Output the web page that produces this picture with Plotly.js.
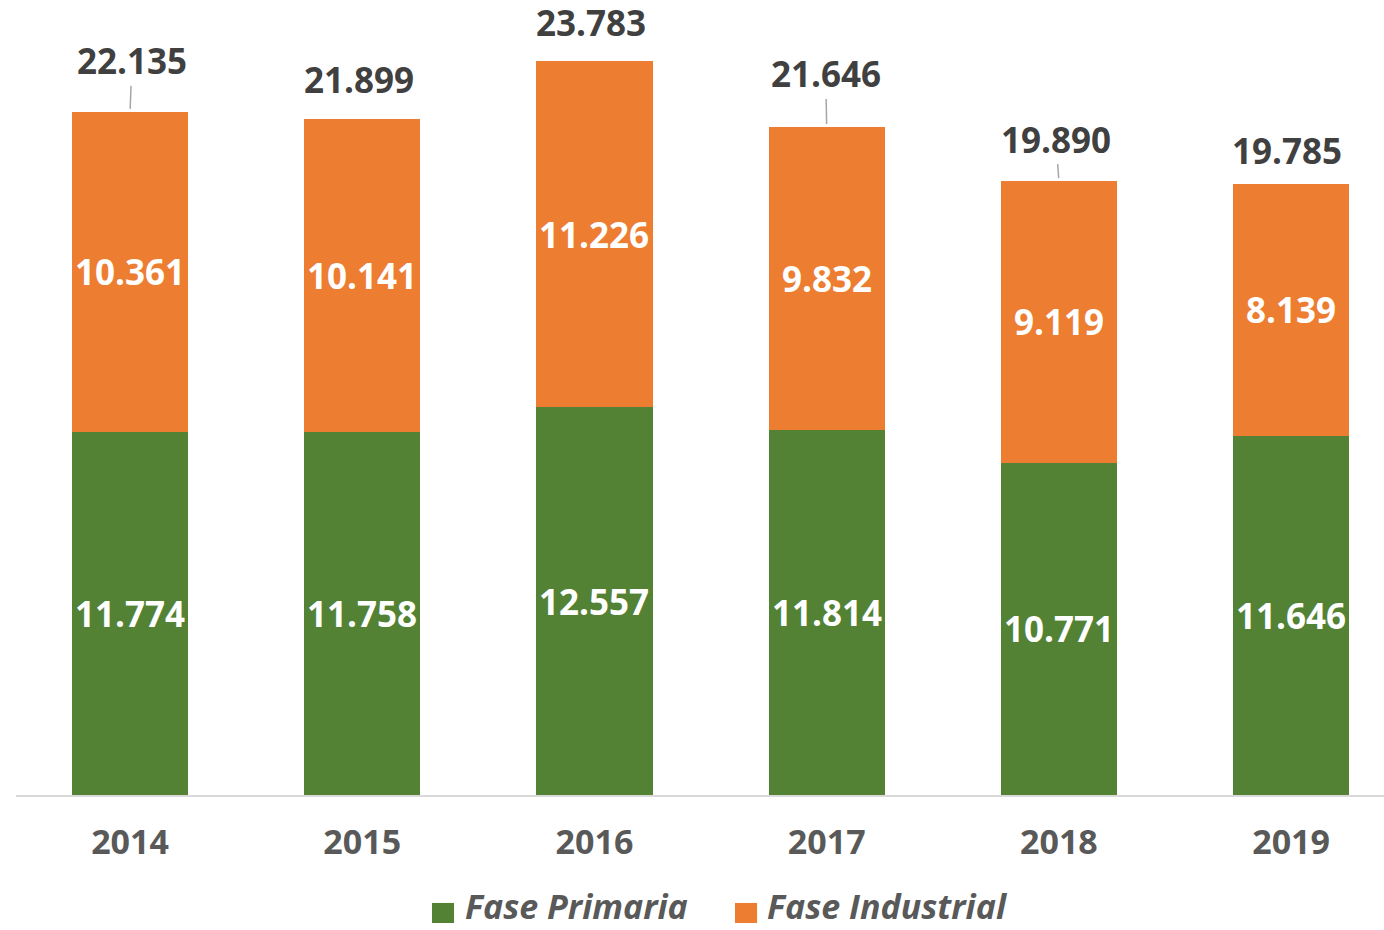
<!DOCTYPE html>
<html>
<head>
<meta charset="utf-8">
<script src="https://cdn.plot.ly/plotly-3.0.1.min.js"></script>
<style>html,body{margin:0;padding:0;background:#fff;}#chart{width:1384px;height:930px;}</style>
</head>
<body>
<div id="chart"></div>
<script>
const years = ['2014', '2015', '2016', '2017', '2018', '2019'];
const primaria = [11774, 11758, 12557, 11814, 10771, 11646];
const industrial = [10361, 10141, 11226, 9832, 9119, 8139];
const totals = [22135, 21899, 23783, 21646, 19890, 19785];
const seriesNames = ['Fase Primaria', 'Fase Industrial'];

function fmt(v) {
  return String(v).replace(/\B(?=(\d{3})+(?!\d))/g, '.');
}

const FONT = 'Open Sans, Liberation Sans, sans-serif';
const GREEN = '#548235';
const ORANGE = '#ED7D31';
const colors = [GREEN, ORANGE];

// label placement (style config): pixel offsets of total labels and whether a leader line is shown
const totalLabelStyle = [
  {ax: 2, ay: -51, line: true},
  {ax: -3, ay: -40, line: false},
  {ax: -3, ay: -39, line: false},
  {ax: -1, ay: -53, line: true},
  {ax: -3, ay: -42, line: true},
  {ax: -4, ay: -34, line: false}
];

const traces = [
  {type: 'bar', name: seriesNames[0], x: years, y: primaria, marker: {color: GREEN}, hoverinfo: 'none', showlegend: false},
  {type: 'bar', name: seriesNames[1], x: years, y: industrial, marker: {color: ORANGE}, hoverinfo: 'none', showlegend: false}
];

const annotations = [];
const shapes = [];
years.forEach((yr, i) => {
  // category index i on the category axis
  annotations.push({x: i, y: primaria[i] / 2, xref: 'x', yref: 'y', text: '<b>' + fmt(primaria[i]) + '</b>', showarrow: false,
    font: {family: FONT, size: 35, color: '#ffffff'}});
  annotations.push({x: i, y: primaria[i] + industrial[i] / 2, xref: 'x', yref: 'y', text: '<b>' + fmt(industrial[i]) + '</b>', showarrow: false,
    font: {family: FONT, size: 35, color: '#ffffff'}});
  const s = totalLabelStyle[i];
  annotations.push({x: i, y: totals[i], xref: 'x', yref: 'y', text: '<b>' + fmt(totals[i]) + '</b>',
    showarrow: true, arrowhead: 0, arrowwidth: 1.5, arrowcolor: s.line ? '#a6a6a6' : 'rgba(255,255,255,0)',
    ax: s.ax, ay: s.ay, standoff: 3,
    font: {family: FONT, size: 35, color: '#404040'}});
});

// manual legend (squares + labels) below the plot
const legendPos = [
  {sx0: 0.3041, sx1: 0.3202, tx: 0.3275},
  {sx0: 0.5256, sx1: 0.5417, tx: 0.5480}
];
seriesNames.forEach((nm, k) => {
  const p = legendPos[k];
  shapes.push({type: 'rect', xref: 'paper', yref: 'paper', x0: p.sx0, x1: p.sx1, y0: -0.1610, y1: -0.1358,
    fillcolor: colors[k], line: {width: 0}});
  annotations.push({xref: 'paper', yref: 'paper', x: p.tx, y: -0.1695, xanchor: 'left', yanchor: 'bottom', borderpad: 0,
    text: '<b><i>' + nm + '</i></b>', showarrow: false,
    font: {family: FONT, size: 34, color: '#595959'}});
});

const layout = {
  width: 1384, height: 930,
  margin: {l: 16, r: 0, t: 0, b: 135},
  paper_bgcolor: '#ffffff', plot_bgcolor: '#ffffff',
  barmode: 'stack', bargap: 0.5,
  showlegend: false,
  xaxis: {type: 'category', range: [-0.491, 5.40], showline: true, linecolor: '#d9d9d9', linewidth: 2,
    ticks: '', showgrid: false, zeroline: false, ticklabelstandoff: 16, fixedrange: true,
    tickfont: {family: FONT, size: 34, color: '#595959', weight: 'bold'}},
  yaxis: {range: [0, 25760], showticklabels: false, showline: false, showgrid: false, zeroline: false, ticks: '', fixedrange: true},
  annotations: annotations,
  shapes: shapes
};

Plotly.newPlot('chart', traces, layout, {displayModeBar: false});
</script>
</body>
</html>
